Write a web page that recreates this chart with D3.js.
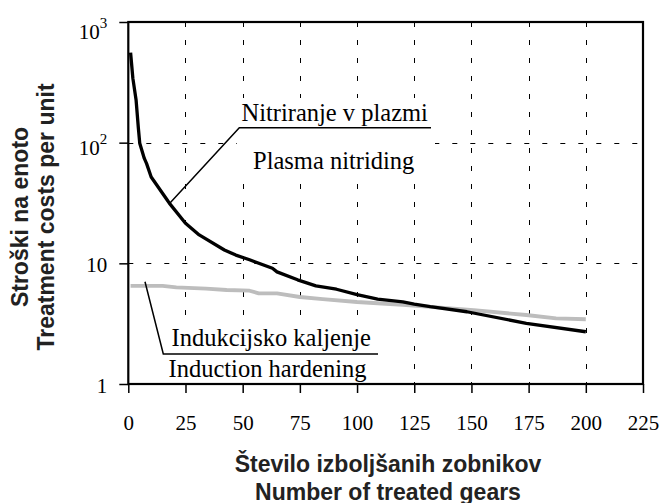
<!DOCTYPE html>
<html>
<head>
<meta charset="utf-8">
<script src="https://cdn.jsdelivr.net/npm/d3@7"></script>
<style>
  html, body { margin: 0; padding: 0; background: #fff; }
  svg { display: block; }
</style>
</head>
<body>
<svg id="chart" width="664" height="503"></svg>
<script>
// ---------- data ----------
const xTicks = [0, 25, 50, 75, 100, 125, 150, 175, 200, 225];
const yTicks = [1, 10, 100, 1000];
const yTickBase = ["1", "10", "10", "10"];
const yTickExp = ["", "", "2", "3"];
const xGridValues = [25, 50, 75, 100, 125, 150, 175, 200];
const yGridValues = [10, 100];

const nitridingX = [1, 2, 3.4, 4.4, 5, 7, 8, 10, 17, 18, 25, 31, 42, 47, 53, 63, 65, 74, 82, 91, 100, 109, 120, 125, 132, 148, 174, 200];
const nitridingY = [557, 341, 226, 132, 99, 74, 67, 52, 33.5, 31.4, 21.5, 17.2, 12.9, 11.7, 10.7, 9.1, 8.5, 7.3, 6.5, 6.1, 5.5, 5.06, 4.8, 4.6, 4.37, 3.97, 3.18, 2.71];

const inductionX = [1, 15, 21, 34, 43, 53, 57, 65, 75, 85, 100, 109, 120, 132, 151, 174, 187, 200];
const inductionY = [6.5, 6.5, 6.33, 6.16, 6.01, 5.93, 5.64, 5.64, 5.26, 5.06, 4.78, 4.67, 4.52, 4.35, 4.10, 3.73, 3.50, 3.44];

const yTitleLines = ["Stroški na enoto", "Treatment costs per unit"];
const xTitleLines = ["Število izboljšanih zobnikov", "Number of treated gears"];
const nitridingLabels = ["Nitriranje v plazmi", "Plasma nitriding"];
const inductionLabels = ["Indukcijsko kaljenje", "Induction hardening"];

// ---------- layout ----------
const L = 128.3, R = 643, T = 22, B = 384;
const svg = d3.select("#chart");
const serif = "'Liberation Serif', 'Times New Roman', serif";
const sans = "'Liberation Sans', Arial, sans-serif";

const x = d3.scaleLinear().domain([0, 225]).range([L, R]);
const y = d3.scaleLog().domain([1, 1000]).range([B, T]);

// grid
const grid = svg.append("g").attr("stroke", "#000").attr("stroke-width", 1)
  .attr("stroke-dasharray", "5,13");
grid.selectAll("line.v").data(xGridValues).join("line")
  .attr("x1", d => Math.round(x(d)) + 0.5).attr("x2", d => Math.round(x(d)) + 0.5)
  .attr("y1", T).attr("y2", B);
grid.selectAll("line.h").data(yGridValues).join("line")
  .attr("x1", L).attr("x2", R)
  .attr("y1", d => Math.round(y(d)) + 0.5).attr("y2", d => Math.round(y(d)) + 0.5);

// curves
const line = d3.line().x(d => x(d[0])).y(d => y(d[1])).curve(d3.curveLinear);
svg.append("path")
  .datum(inductionX.map((v, i) => [v, inductionY[i]]))
  .attr("d", line).attr("fill", "none")
  .attr("stroke", "#bdbdbd").attr("stroke-width", 3.8)
  .attr("stroke-linejoin", "round");
svg.append("path")
  .datum(nitridingX.map((v, i) => [v, nitridingY[i]]))
  .attr("d", line).attr("fill", "none")
  .attr("stroke", "#000").attr("stroke-width", 3.3)
  .attr("stroke-linejoin", "round");

// annotation boxes (white fill hides grid)
svg.append("rect").attr("x", 237).attr("y", 98).attr("width", 198).attr("height", 78).attr("fill", "#fff");
svg.append("rect").attr("x", 160).attr("y", 326).attr("width", 222).attr("height", 57).attr("fill", "#fff");

// axes
const xAxis = d3.axisBottom(x).tickValues(xTicks).tickSize(9).tickSizeOuter(0).tickPadding(22);
const gx = svg.append("g").attr("transform", `translate(0,${B})`).call(xAxis);
gx.select(".domain").remove();
gx.selectAll(".tick line").attr("stroke", "#000").attr("stroke-width", 1.5);
gx.selectAll(".tick text").attr("font-family", serif).attr("font-size", 21).attr("fill", "#000");

const yAxis = d3.axisLeft(y).tickValues(yTicks).tickSize(9).tickSizeOuter(0).tickPadding(12).tickFormat(() => "");
const gy = svg.append("g").attr("transform", `translate(${L},0)`).call(yAxis);
gy.select(".domain").remove();
gy.selectAll(".tick line").attr("stroke", "#000").attr("stroke-width", 1.5);
gy.selectAll(".tick text")
  .attr("font-family", serif).attr("font-size", 21).attr("fill", "#000")
  .attr("dy", null)
  .each(function(d, i) {
    const t = d3.select(this);
    const exp = yTickExp[i];
    let dy = exp ? 11.5 : 8.5;
    if (i === yTicks.length - 1) dy = 16;
    t.attr("y", dy);
    t.append("tspan").text(yTickBase[i]);
    if (exp) t.append("tspan").attr("font-size", 15).attr("dy", -10.5).text(exp);
  });

// frame
svg.append("rect").attr("x", L).attr("y", T).attr("width", R - L).attr("height", B - T)
  .attr("fill", "none").attr("stroke", "#000").attr("stroke-width", 2.2);

// annotations
const ann = svg.append("g").attr("font-family", serif).attr("font-size", 24.5).attr("fill", "#000");
ann.append("text").attr("x", 241.5).attr("y", 121).text(nitridingLabels[0]);
ann.append("text").attr("x", 253).attr("y", 169).text(nitridingLabels[1]);
ann.append("text").attr("x", 171.5).attr("y", 346).text(inductionLabels[0]);
ann.append("text").attr("x", 168.5).attr("y", 376.5).text(inductionLabels[1]);

const leaders = svg.append("g").attr("fill", "none").attr("stroke", "#000").attr("stroke-width", 1.5);
leaders.append("polyline").attr("points", `170,203 239.3,127.7 431,127.7`);
leaders.append("polyline").attr("points", `145,281.7 163.3,354 378,354`);

// axis titles
const xt = svg.append("g").attr("font-family", sans).attr("font-weight", "bold").attr("font-size", 23)
  .attr("text-anchor", "middle").attr("fill", "#222");
xt.selectAll("text").data(xTitleLines).join("text")
  .attr("x", 388).attr("y", (d, i) => 472 + i * 28).text(d => d);

const yt = svg.append("g").attr("font-family", sans).attr("font-weight", "bold").attr("font-size", 23)
  .attr("text-anchor", "middle").attr("fill", "#222");
yt.selectAll("text").data(yTitleLines).join("text")
  .attr("transform", (d, i) => `translate(${28 + i * 26},217) rotate(-90)`).text(d => d);
</script>
</body>
</html>
